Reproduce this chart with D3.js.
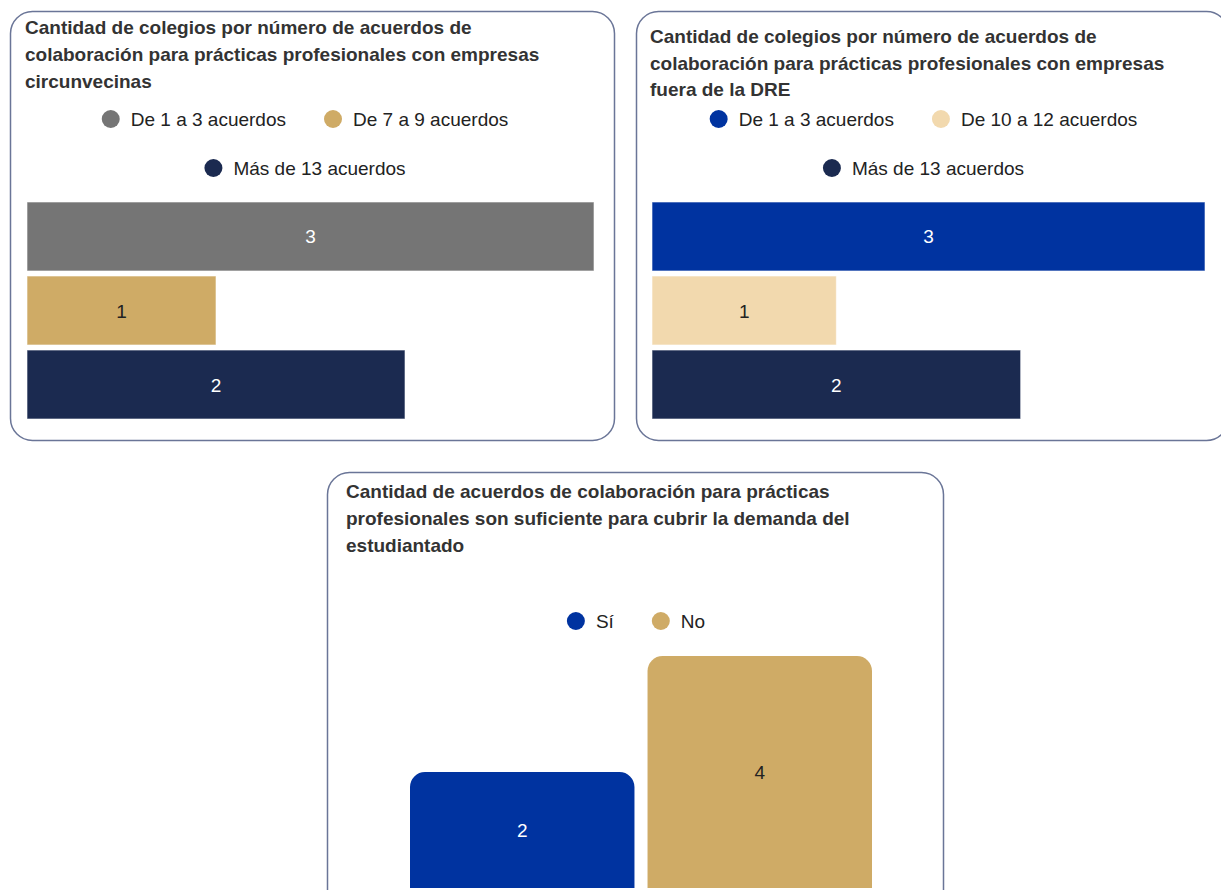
<!DOCTYPE html>
<html>
<head>
<meta charset="utf-8">
<script src="https://cdn.jsdelivr.net/npm/d3@7"></script>
<style>
  body { margin: 0; background: #fff; }
  svg { display: block; font-family: "Liberation Sans", Arial, sans-serif; }
</style>
</head>
<body>
<svg id="chart" width="1221" height="890"></svg>
<script>
// Datos de cada gráfico
const titleCircun = ['Cantidad de colegios por número de acuerdos de',
  'colaboración para prácticas profesionales con empresas', 'circunvecinas'];
const catsCircun = ['De 1 a 3 acuerdos', 'De 7 a 9 acuerdos', 'Más de 13 acuerdos'];
const valsCircun = [3, 1, 2];
const colorsCircun = ['#757575', '#cfab66', '#1b2a50'];

const titleFuera = ['Cantidad de colegios por número de acuerdos de',
  'colaboración para prácticas profesionales con empresas', 'fuera de la DRE'];
const catsFuera = ['De 1 a 3 acuerdos', 'De 10 a 12 acuerdos', 'Más de 13 acuerdos'];
const valsFuera = [3, 1, 2];
const colorsFuera = ['#0033a0', '#f2d9ae', '#1b2a50'];

const titleSuf = ['Cantidad de acuerdos de colaboración para prácticas',
  'profesionales son suficiente para cubrir la demanda del', 'estudiantado'];
const catsSuf = ['Sí', 'No'];
const valsSuf = [2, 4];
const colorsSuf = ['#0033a0', '#cfab66'];

const darkText = (c) => d3.hsl(c).l > 0.5 ? '#222' : '#fff';

const svg = d3.select('#chart');

// Caja redondeada + título
const drawBox = (g, box, lines, titleX, titleY, lineH) => {
  g.append('rect')
    .attr('x', box.x).attr('y', box.y)
    .attr('width', box.w).attr('height', box.h)
    .attr('rx', 22).attr('ry', 22)
    .attr('fill', '#fff')
    .attr('stroke', '#6a7597')
    .attr('stroke-width', 1.5);

  g.append('g').selectAll('text')
    .data(lines)
    .enter().append('text')
    .attr('x', titleX)
    .attr('y', (d, i) => titleY + i * lineH)
    .attr('font-size', '19px')
    .attr('font-weight', 'bold')
    .attr('fill', '#333')
    .text(d => d);
}

// Leyenda centrada, con salto de línea si no cabe
const drawLegend = (g, cats, colors, cx, y0, rowH, maxW) => {
  const r = 9, gapText = 11, gapItem = 38;
  const leg = g.append('g');
  const items = cats.map((c, i) => {
    const t = leg.append('text').attr('font-size', '19px').attr('fill', '#222').text(c);
    return { t, w: t.node().getComputedTextLength(), color: colors[i] };
  });
  const rows = [[]];
  let rowW = 0;
  items.forEach(it => {
    const w = 2 * r + gapText + it.w;
    const add = rows[rows.length - 1].length ? gapItem + w : w;
    if (rowW + add > maxW && rows[rows.length - 1].length) {
      rows.push([it]);
      rowW = w;
    } else {
      rows[rows.length - 1].push(it);
      rowW += add;
    }
  });
  rows.forEach((row, ri) => {
    const total = d3.sum(row, it => 2 * r + gapText + it.w) + gapItem * (row.length - 1);
    let x = cx - total / 2;
    const y = y0 + ri * rowH;
    row.forEach(it => {
      leg.append('circle')
        .attr('cx', x + r).attr('cy', y).attr('r', r)
        .attr('fill', it.color);
      it.t.attr('x', x + 2 * r + gapText).attr('y', y + 7);
      x += 2 * r + gapText + it.w + gapItem;
    });
  });
}

// Barras horizontales
const drawHBars = (g, cats, vals, colors, area) => {
  const x = d3.scaleLinear().domain([0, d3.max(vals)]).range([area.x0, area.x1]);
  const y = d3.scaleBand().domain(cats).range([area.y0, area.y1]).paddingInner(0.068);

  const bars = g.append('g').selectAll('g')
    .data(cats.map((c, i) => ({ cat: c, val: vals[i], color: colors[i] })))
    .enter().append('g');

  bars.append('rect')
    .attr('x', x(0))
    .attr('y', d => y(d.cat))
    .attr('width', d => x(d.val) - x(0))
    .attr('height', y.bandwidth())
    .attr('fill', d => d.color)
    .attr('stroke', 'rgba(255,255,255,0.6)')
    .attr('stroke-width', 1);

  bars.append('text')
    .attr('x', d => (x(0) + x(d.val)) / 2)
    .attr('y', d => y(d.cat) + y.bandwidth() / 2 + 7)
    .attr('text-anchor', 'middle')
    .attr('font-size', '19px')
    .attr('fill', d => darkText(d.color))
    .text(d => d.val);
}

// Barras verticales con esquinas superiores redondeadas
const drawVBars = (g, cats, vals, colors, area) => {
  const x = d3.scaleBand().domain(cats).range([area.x0, area.x1]).paddingInner(0.055);
  const y = d3.scaleLinear().domain([0, d3.max(vals)]).range([area.y1, area.y0]);
  const rad = 15;

  const topRounded = (x0, y0, w, h) => {
    const p = d3.path();
    p.moveTo(x0, y0 + h);
    p.lineTo(x0, y0 + rad);
    p.arcTo(x0, y0, x0 + rad, y0, rad);
    p.lineTo(x0 + w - rad, y0);
    p.arcTo(x0 + w, y0, x0 + w, y0 + rad, rad);
    p.lineTo(x0 + w, y0 + h);
    p.closePath();
    return p.toString();
  };

  const bars = g.append('g').selectAll('g')
    .data(cats.map((c, i) => ({ cat: c, val: vals[i], color: colors[i] })))
    .enter().append('g');

  bars.append('path')
    .attr('d', d => topRounded(x(d.cat), y(d.val), x.bandwidth(), y(0) - y(d.val)))
    .attr('fill', d => d.color);

  bars.append('text')
    .attr('x', d => x(d.cat) + x.bandwidth() / 2)
    .attr('y', d => (y(d.val) + y(0)) / 2 + 7)
    .attr('text-anchor', 'middle')
    .attr('font-size', '19px')
    .attr('fill', d => darkText(d.color))
    .text(d => d.val);
}

// Panel 1
const p1 = svg.append('g');
drawBox(p1, { x: 10.5, y: 11.5, w: 604, h: 429 }, titleCircun, 25, 34, 27);
drawLegend(p1, catsCircun, colorsCircun, 305, 119, 49, 567);
drawHBars(p1, catsCircun, valsCircun, colorsCircun, { x0: 27, x1: 594, y0: 202, y1: 419 });

// Panel 2
const p2 = svg.append('g');
drawBox(p2, { x: 636.5, y: 11.5, w: 592, h: 429 }, titleFuera, 650, 43, 26.5);
drawLegend(p2, catsFuera, colorsFuera, 923.5, 119, 49, 553);
drawHBars(p2, catsFuera, valsFuera, colorsFuera, { x0: 652, x1: 1205, y0: 202, y1: 419 });

// Panel 3
const p3 = svg.append('g');
drawBox(p3, { x: 327.5, y: 472.5, w: 616, h: 440 }, titleSuf, 346, 498, 27);
drawLegend(p3, catsSuf, colorsSuf, 636, 621, 49, 462);
drawVBars(p3, catsSuf, valsSuf, colorsSuf, { x0: 410, x1: 872, y0: 656, y1: 888 });
</script>
</body>
</html>
